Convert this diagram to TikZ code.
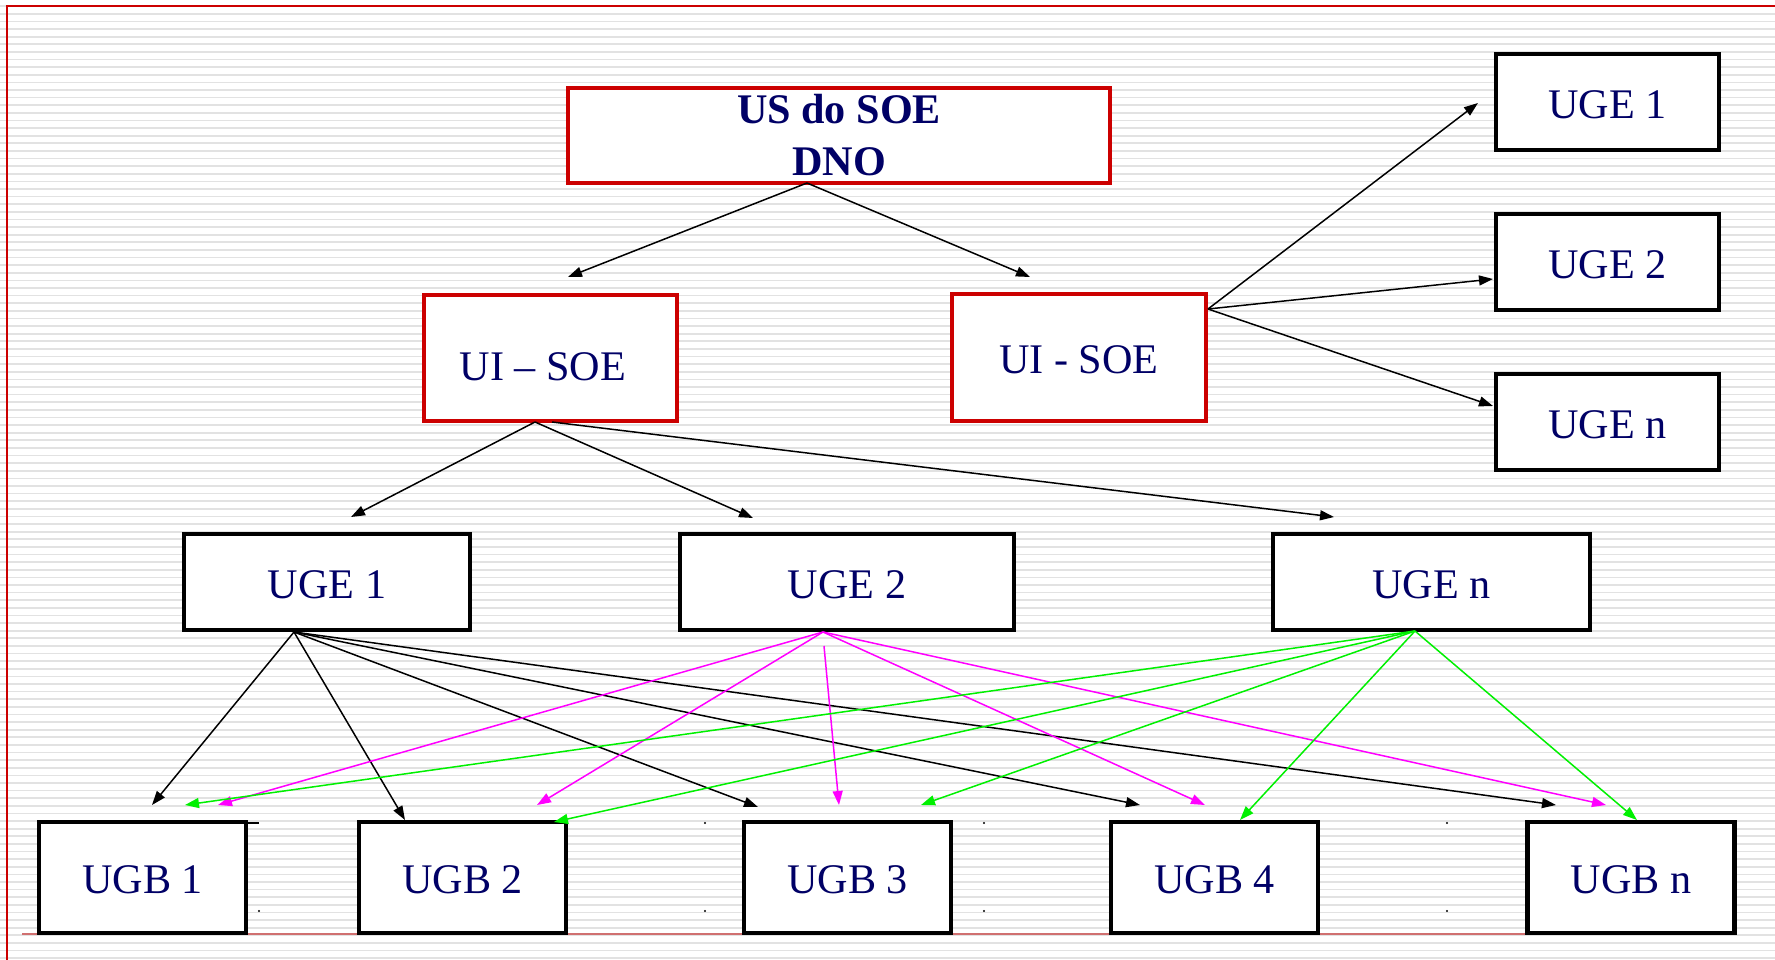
\documentclass[tikz,border=0pt]{standalone}
\usepackage{fontspec}
\setmainfont{Liberation Serif}
\usepackage{tikz}
\usetikzlibrary{arrows.meta}
\definecolor{navy}{HTML}{000066}
\definecolor{boxred}{HTML}{CC0000}
\definecolor{linered}{HTML}{D07070}
\definecolor{stripe}{HTML}{E2E2E2}
\definecolor{mag}{HTML}{FF00FF}
\definecolor{grn}{HTML}{00F000}

\begin{document}
\begin{tikzpicture}[x=0.1mm, y=-0.1mm,
    txt/.style={text=navy, font=\fontsize{12}{14.8}\selectfont, align=center},
    redbox/.style={txt, draw=boxred, line width=0.4mm, fill=white, inner sep=0pt},
    blackbox/.style={txt, draw=black, line width=0.4mm, fill=white, inner sep=0pt,
                     text height=3.2mm, text depth=0pt},
    ugbbox/.style={blackbox, line width=0.45mm, minimum width=20.7mm, minimum height=11.1mm},
    lbl/.style={txt, inner sep=0pt, text height=3.2mm, text depth=0pt},
    con/.style={line width=0.15mm, -{Triangle[length=1.4mm, width=1mm]}}]
    \useasboundingbox (0,0) rectangle (1775,960);
    % striped background and frame
    \foreach \i in {0,...,125}
        \fill[stripe] (0,{5.4+7.615*\i}) rectangle ++(1775,1.7);
    \draw[boxred, line width=0.2mm] (1775,6) -- (7,6) -- (7,960);
    \draw[linered, line width=0.2mm] (22,934) -- (1530,934);

    % boxes at absolute coordinates
    \node[redbox, minimum width=54.2mm, minimum height=9.5mm,
          font=\fontsize{12}{14.8}\selectfont\bfseries] (us) at (839,135) {US do SOE\\DNO};
    \node[redbox, minimum width=25.3mm, minimum height=12.6mm] (uiL) at (550.5,358) {};
    \node[lbl] (uiLtxt) at (543,364) {UI -- SOE};
    \node[redbox, minimum width=25.4mm, minimum height=12.7mm,
          text height=3.2mm, text depth=0pt] (uiR) at (1079,357.5) {UI - SOE};
    \node[blackbox, minimum width=22.3mm, minimum height=9.6mm] (ugeR1) at (1607.5,102) {UGE 1};
    \node[blackbox, minimum width=22.3mm, minimum height=9.6mm] (ugeR2) at (1607.5,262) {UGE 2};
    \node[blackbox, minimum width=22.3mm, minimum height=9.6mm] (ugeRn) at (1607.5,422) {UGE n};
    \node[blackbox, minimum width=28.6mm, minimum height=9.6mm] (ugeA) at (327,582) {UGE 1};
    \node[blackbox, minimum width=33.4mm, minimum height=9.6mm] (ugeB) at (847,582) {UGE 2};
    \node[blackbox, minimum width=31.7mm, minimum height=9.6mm] (ugeN) at (1431.5,582) {UGE n};
    \node[ugbbox] (ugbA) at (142.5,877.5) {UGB 1};
    \node[ugbbox] (ugbB) at (462.5,877.5) {UGB 2};
    \node[ugbbox] (ugbC) at (847.5,877.5) {UGB 3};
    \node[ugbbox] (ugbD) at (1214.5,877.5) {UGB 4};
    \node[ugbbox] (ugbN) at (1631,877.5) {UGB n};

    % stray marks
    \coordinate (tick) at (247,823);
    \draw[line width=0.2mm] (tick) -- ++(12,0);
    \foreach \p in {(259,911),(705,823),(705,911),(984,823),(984,911),(1447,823),(1447,911)}
        \fill \p circle[radius=1.2];

    % fan points and arrow ends
    \foreach \n/\x/\y in {usF/807/183, uiRF/1208/309, uiLF/535/422, uiLF2/552/422,
        ugeAF/294/632, ugeBF/823/632, ugeBF2/824/646, ugeNF/1415/631,
        uiLin/568/277, uiRin/1030/277,
        ugeR1in/1478/103, ugeR2in/1493/279, ugeRnin/1493/406,
        ugeAin/351/517, ugeBin/753/518, ugeNin/1334/517,
        ugbAk/152/805, ugbBk/405/820, ugbCk/758/807, ugbDk/1140/805, ugbNk/1556/805,
        ugbAm/218/805, ugbBm/537/805, ugbCm/839/805, ugbDm/1205/805, ugbNm/1606/805,
        ugbAg/185/805, ugbBg/554/822, ugbCg/921/805, ugbDg/1240/820, ugbNg/1637/820}
        \coordinate (\n) at (\x,\y);

    \path[con] (usF) edge (uiLin) edge (uiRin);
    \path[con] (uiRF) edge (ugeR1in) edge (ugeR2in) edge (ugeRnin);
    \path[con] (uiLF) edge (ugeAin) edge (ugeBin);
    \path[con] (uiLF2) edge (ugeNin);
    \path[con] (ugeAF) edge (ugbAk) edge (ugbBk) edge (ugbCk) edge (ugbDk) edge (ugbNk);
    \path[con, mag] (ugeBF) edge (ugbAm) edge (ugbBm) edge (ugbDm) edge (ugbNm);
    \path[con, mag] (ugeBF2) edge (ugbCm);
    \path[con, grn] (ugeNF) edge (ugbAg) edge (ugbBg) edge (ugbCg) edge (ugbDg) edge (ugbNg);
\end{tikzpicture}
\end{document}
